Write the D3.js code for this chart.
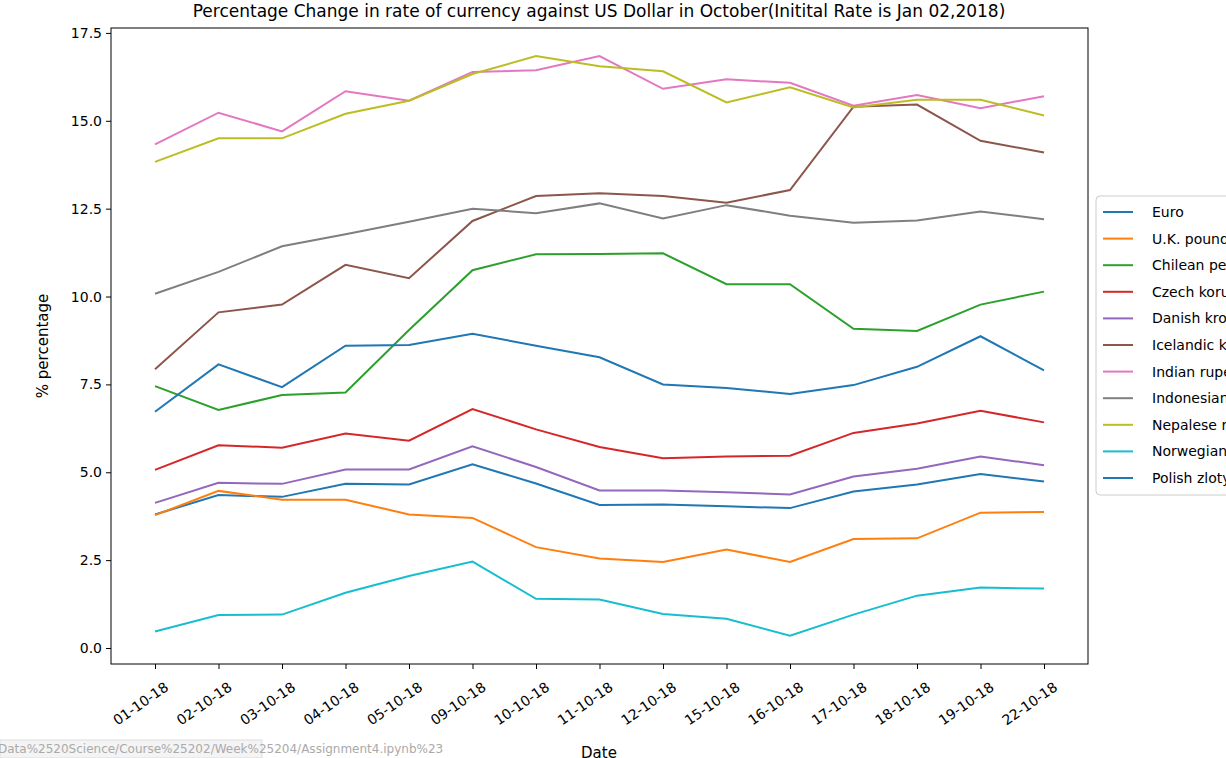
<!DOCTYPE html>
<html><head><meta charset="utf-8">
<script src="https://cdn.jsdelivr.net/npm/d3@7"></script>
<style>body{margin:0;background:#fff;overflow:hidden}svg{font-family:"DejaVu Sans",sans-serif}</style>
</head><body>
<div id="chart"></div>
<script>
// chart data
const dates = ['01-10-18','02-10-18','03-10-18','04-10-18','05-10-18','09-10-18','10-10-18','11-10-18','12-10-18','15-10-18','16-10-18','17-10-18','18-10-18','19-10-18','22-10-18']
const names = ['Euro','U.K. pound','Chilean peso','Czech koruna','Danish krone','Icelandic krona','Indian rupee','Indonesian rupiah','Nepalese rupee','Norwegian krone','Polish zloty']
const colors = ['#1f77b4','#ff7f0e','#2ca02c','#d62728','#9467bd','#8c564b','#e377c2','#7f7f7f','#bcbd22','#17becf','#1f77b4']
const euro = [3.8,4.35,4.3,4.67,4.65,5.23,4.68,4.07,4.08,4.03,3.98,4.45,4.65,4.95,4.74]
const pound = [3.78,4.47,4.22,4.22,3.8,3.7,2.87,2.55,2.45,2.8,2.45,3.1,3.12,3.85,3.87]
const chilean = [7.45,6.77,7.2,7.27,9.05,10.75,11.2,11.21,11.23,10.35,10.35,9.08,9.02,9.77,10.14]
const czech = [5.07,5.77,5.7,6.1,5.9,6.8,6.22,5.72,5.4,5.45,5.47,6.12,6.39,6.75,6.42]
const danish = [4.13,4.7,4.67,5.08,5.08,5.74,5.15,4.48,4.48,4.43,4.37,4.88,5.1,5.45,5.2]
const icelandic = [7.93,9.55,9.77,10.9,10.52,12.15,12.86,12.94,12.86,12.67,13.03,15.4,15.46,14.43,14.1]
const indian = [14.33,15.23,14.7,15.84,15.57,16.39,16.44,16.84,15.91,16.18,16.08,15.43,15.73,15.36,15.7]
const indonesian = [10.08,10.7,11.43,11.77,12.13,12.5,12.37,12.65,12.22,12.6,12.3,12.1,12.16,12.42,12.2]
const nepalese = [13.83,14.5,14.5,15.2,15.57,16.33,16.84,16.55,16.41,15.52,15.95,15.38,15.6,15.6,15.15]
const norwegian = [0.47,0.94,0.95,1.57,2.05,2.46,1.4,1.38,0.97,0.83,0.35,0.95,1.49,1.72,1.69]
const polish = [6.72,8.07,7.42,8.6,8.62,8.94,8.6,8.27,7.5,7.4,7.23,7.48,8.0,8.87,7.9]
const series = [euro,pound,chilean,czech,danish,icelandic,indian,indonesian,nepalese,norwegian,polish]
const yTicks = [0,2.5,5,7.5,10,12.5,15,17.5]

const width = 1226, height = 758
const plotLeft = 111, plotRight = 1088, plotTop = 28, plotBottom = 664

let svg = d3.select('#chart').append('svg')
  .attr('width', width).attr('height', height)

let x = d3.scalePoint().domain(dates).range([155, 1044])
let y = d3.scaleLinear().domain([-0.455, 17.64]).range([plotBottom, plotTop])

// axes
let yAxis = svg.append('g')
  .attr('transform', `translate(${plotLeft},0)`)
  .call(d3.axisLeft(y).tickValues(yTicks).tickFormat(d3.format('.1f')).tickSize(5).tickPadding(4))
let xAxis = svg.append('g')
  .attr('transform', `translate(0,${plotBottom})`)
  .call(d3.axisBottom(x).tickSize(5).tickPadding(4))
;[xAxis, yAxis].forEach(g => {
  g.select('.domain').remove()
  g.selectAll('text').attr('font-size', 14).attr('fill', '#000').attr('font-family', 'DejaVu Sans')
  g.selectAll('line').attr('stroke', '#000')
})
xAxis.selectAll('text')
  .attr('text-anchor', 'end')
  .attr('dy', '0.35em')
  .attr('transform', 'translate(6,14) rotate(-35)')

// lines
let line = d3.line().x((d, i) => x(dates[i])).y(d => y(d))
series.forEach((s, k) => {
  svg.append('path').datum(s)
    .attr('fill', 'none').attr('stroke', colors[k]).attr('stroke-width', 2)
    .attr('d', line)
})

// frame
svg.append('rect').attr('x', plotLeft).attr('y', plotTop)
  .attr('width', plotRight - plotLeft).attr('height', plotBottom - plotTop)
  .attr('fill', 'none').attr('stroke', '#000').attr('stroke-width', 1)

svg.append('text').attr('x', 599).attr('y', 17).attr('text-anchor', 'middle')
  .attr('font-size', 17).text('Percentage Change in rate of currency against US Dollar in October(Initital Rate is Jan 02,2018)')
svg.append('text').attr('transform', 'translate(48,346) rotate(-90)').attr('text-anchor', 'middle')
  .attr('font-size', 15).text('% percentage')
svg.append('text').attr('x', 599).attr('y', 758).attr('text-anchor', 'middle')
  .attr('font-size', 15).text('Date')

// legend
let lg = svg.append('g').attr('transform', 'translate(1096,196)')
lg.append('rect').attr('width', 140).attr('height', 299).attr('rx', 4)
  .attr('fill', '#fff').attr('stroke', '#ccc')
names.forEach((n, k) => {
  let yy = 16 + k * 26.6
  lg.append('line').attr('x1', 7).attr('x2', 37).attr('y1', yy).attr('y2', yy)
    .attr('stroke', colors[k]).attr('stroke-width', 2)
  lg.append('text').attr('x', 56).attr('y', yy + 5).attr('font-size', 14).text(n)
})

// status bar text
svg.append('rect').attr('x', 0).attr('y', 740).attr('width', 262).attr('height', 18).attr('fill', '#f4f4f4').attr('stroke', '#ddd')
svg.append('text').attr('x', -2).attr('y', 753).attr('font-size', 12).attr('fill', '#aaa')
  .text('Data%2520Science/Course%25202/Week%25204/Assignment4.ipynb%23')
</script>
</body></html>
